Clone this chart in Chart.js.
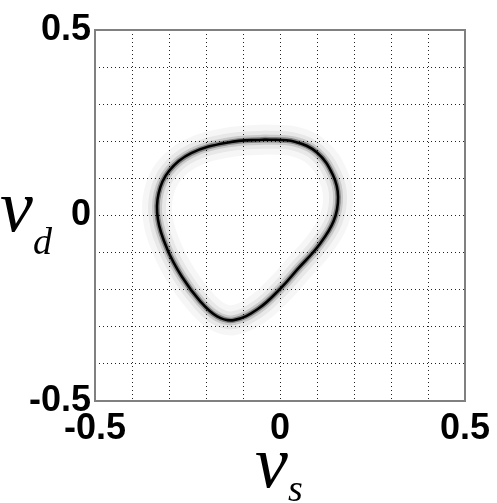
<!DOCTYPE html>
<html>
<head>
<meta charset="utf-8">
<script src="https://cdn.jsdelivr.net/npm/chart.js@4.4.1/dist/chart.umd.min.js"></script>
<style>
  html, body { margin: 0; padding: 0; background: #fff; }
  #wrap { width: 497px; height: 503px; position: relative; }
</style>
</head>
<body>
<div id="wrap"><canvas id="chart"></canvas></div>
<script>
// ─── DATA ───────────────────────────────────────────────────────────
// closed loop, clockwise from the top
const vsValues = [-0.04, 0.04, 0.10, 0.143, 0.157, 0.145, 0.105, 0.050, 0.0, -0.060, -0.125, -0.170, -0.215, -0.265, -0.305, -0.330, -0.328, -0.300, -0.240, -0.140, -0.04];
const vdValues = [0.205, 0.199, 0.170, 0.109, 0.050, -0.015, -0.080, -0.142, -0.198, -0.252, -0.282, -0.272, -0.232, -0.165, -0.090, -0.010, 0.060, 0.120, 0.168, 0.197, 0.205];
const tickLabels = ['-0.5', '0', '0.5'];
const axisMin = -0.5;
const axisMax = 0.5;

const points = vsValues.map((x, i) => ({ x, y: vdValues[i] }));

// blurred look: same loop drawn several times, wide/faint to thin/dark
const layers = [
  { w: 30, c: 'rgba(0,0,0,0.035)' },
  { w: 18, c: 'rgba(0,0,0,0.06)' },
  { w: 10, c: 'rgba(0,0,0,0.13)' },
  { w: 5.5, c: 'rgba(0,0,0,0.35)' },
  { w: 2.6, c: '#050505' }
];

Chart.defaults.font.family = '"Liberation Sans", Arial, sans-serif';

const labelFmt = v => {
  const s = String(Math.round(v * 10) / 10);
  return tickLabels.includes(s) ? s : '';
};

// frame + greek axis labels
const decor = {
  id: 'decor',
  afterDraw(chart) {
    const { ctx, chartArea: a } = chart;
    ctx.save();
    ctx.strokeStyle = '#808080';
    ctx.lineWidth = 2;
    ctx.strokeRect(a.left, a.top, a.right - a.left, a.bottom - a.top);

    ctx.fillStyle = '#000';
    ctx.textBaseline = 'alphabetic';
    ctx.textAlign = 'left';
    const big = 'italic 74px "Liberation Serif", "DejaVu Serif", serif';
    const sub = 'italic 38px "Liberation Serif", "DejaVu Serif", serif';
    const midY = (a.top + a.bottom) / 2;
    ctx.font = big;
    ctx.fillText('ν', 0, midY + 15);
    ctx.font = sub;
    ctx.fillText('d', 33, midY + 38);

    const midX = (a.left + a.right) / 2;
    ctx.font = big;
    ctx.fillText('ν', midX - 25, 487);
    ctx.font = sub;
    ctx.fillText('s', midX + 8, 501);
    ctx.restore();
  }
};

new Chart(document.getElementById('chart'), {
  type: 'scatter',
  data: {
    datasets: layers.map(l => ({
      data: points,
      showLine: true,
      borderColor: l.c,
      borderWidth: l.w,
      pointRadius: 0,
      tension: 0.4,
      borderCapStyle: 'round',
      borderJoinStyle: 'round'
    }))
  },
  options: {
    responsive: true,
    maintainAspectRatio: false,
    animation: false,
    layout: { padding: { top: 30, right: 32, left: 0, bottom: 0 } },
    plugins: { legend: { display: false }, tooltip: { enabled: false } },
    scales: {
      x: {
        min: axisMin, max: axisMax,
        afterFit: s => { s.height = 102; },
        ticks: { stepSize: 0.1, autoSkip: false, maxRotation: 0, padding: 6, color: '#000', font: { size: 36, weight: 'bold' }, callback: labelFmt },
        grid: { color: '#222', lineWidth: 1, drawTicks: false },
        border: { display: false, dash: [1, 3] }
      },
      y: {
        min: axisMin, max: axisMax,
        afterFit: s => { s.width = 95; },
        ticks: { stepSize: 0.1, autoSkip: false, padding: 4, color: '#000', font: { size: 36, weight: 'bold' }, callback: labelFmt },
        grid: { color: '#222', lineWidth: 1, drawTicks: false },
        border: { display: false, dash: [1, 3] }
      }
    }
  },
  plugins: [decor]
});
</script>
</body>
</html>
